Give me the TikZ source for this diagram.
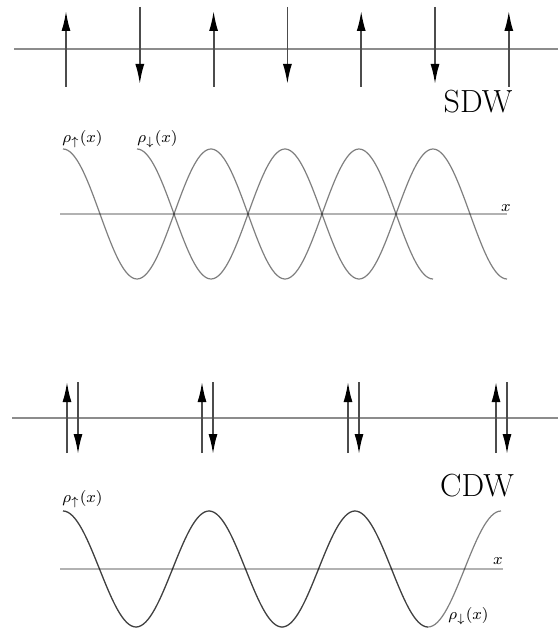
\documentclass[tikz,border=0pt]{standalone}
\usetikzlibrary{arrows.meta}
\begin{document}
\begin{tikzpicture}[x=0.5pt, y=-0.5pt,
    lattice/.style={black!45, line width=1.4pt},
    spin/.style={black!70, line width=0.9pt, -{Latex[length=10pt, width=4.5pt, black]}},
    wave/.style={black, draw opacity=0.5, line width=0.6pt},
    axisline/.style={black!30, line width=0.6pt},
    lbl/.style={font=\fontsize{8}{9}\selectfont, inner sep=0pt},
    title/.style={font=\fontsize{16}{19}\selectfont, inner sep=0pt}]
    \useasboundingbox (0,0) rectangle (558,630);

    % --- SDW: 自旋交替排列 ---
    \def\yA{49}
    \draw[lattice] (14,\yA) -- (558,\yA);
    \foreach \i in {0,...,6} {
        \pgfmathsetmacro{\xs}{66+73.8*\i}
        \ifodd\i
            \draw[spin] (\xs,7) -- (\xs,84);
        \else
            \draw[spin] (\xs,87) -- (\xs,11);
        \fi
    }
    \node[title] (sdw) at (478,102) {SDW};

    % --- SDW 的两种自旋密度 ---
    % P 为周期, A 为振幅
    \def\P{148}
    \def\A{65}
    \def\yB{214}
    \draw[axisline] (60,\yB) -- (507,\yB);
    \node[lbl] (xsdw) at (506,208) {$x$};
    \draw[wave] plot[domain=63:433, samples=160, smooth]
        (\x, {\yB-\A*cos(360/\P*(\x-63))});
    \draw[wave] plot[domain=137:507, samples=160, smooth]
        (\x, {\yB-\A*cos(360/\P*(\x-137))});
    \node[lbl, anchor=west] (rhoupA) at (62,139) {$\rho_\uparrow(x)$};
    \node[lbl, anchor=west] (rhodnA) at (137,139) {$\rho_\downarrow(x)$};

    % --- CDW: 每个格点上一对自旋 ---
    \def\yC{418}
    \draw[lattice] (12,\yC) -- (558,\yC);
    \foreach \xs in {67,202,348,496} {
        \draw[spin] (\xs,453) -- (\xs,382);
        \draw[spin] (\xs+11,382) -- (\xs+11,454);
    }
    \node[title] (cdw) at (477,486) {CDW};

    % --- CDW 的电荷密度 (两条曲线重合) ---
    \def\Q{146}
    \def\B{58}
    \def\yD{569}
    \draw[axisline] (60,\yD) -- (503,\yD);
    \node[lbl] (xcdw) at (498,561) {$x$};
    \draw[wave] plot[domain=63:428, samples=160, smooth]
        (\x, {\yD-\B*cos(360/\Q*(\x-63))});
    \draw[wave] plot[domain=63:501, samples=180, smooth]
        (\x, {\yD-\B*cos(360/\Q*(\x-63))});
    \node[lbl, anchor=west] (rhoupB) at (62,499) {$\rho_\uparrow(x)$};
    \node[lbl, anchor=west] (rhodnB) at (448,616) {$\rho_\downarrow(x)$};

\end{tikzpicture}
\end{document}
